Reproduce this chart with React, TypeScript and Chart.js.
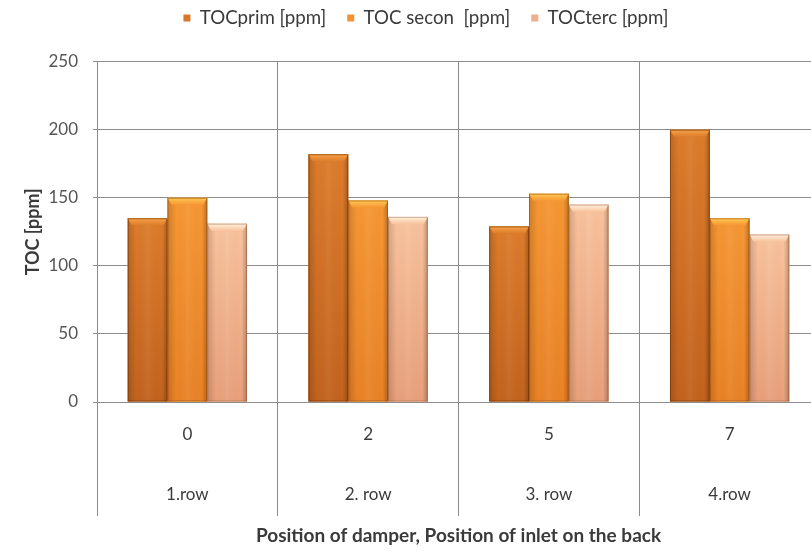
import React, { useEffect, useRef } from 'react';
import { Chart, registerables } from 'chart.js';

Chart.register(...registerables);

// Category levels: damper position (upper line) and inlet row (lower line)
const damperPositions = ['0', '2', '5', '7'];
const inletRows = ['1.row', '2. row', '3. row', '4.row'];

// TOC concentrations [ppm]
const tocPrim = [135, 182, 129, 200];
const tocSecon = [150, 148, 153, 135];
const tocTerc = [131, 136, 145, 123];

const seriesNames = ['TOCprim [ppm]', 'TOC secon  [ppm]', 'TOCterc [ppm]'];

const yMin = 0;
const yMax = 250;
const yStep = 50;

const FONT = 'Lato, "Open Sans", "DejaVu Sans", sans-serif';
const GRID = '#8c8c8c';
const TEXT = '#3a3a3a';

const barColors = ['#D9782A', '#F39232', '#F1AE8C'];
const bevelShades = [
  { cap: '#F6A447', top: '#DD7C2B', bottom: '#C2631E', edge: 'rgba(110,45,0,0.55)' },
  { cap: '#FFC852', top: '#F69734', bottom: '#E98226', edge: 'rgba(130,65,0,0.45)' },
  { cap: '#FFF2DF', top: '#F9C39E', bottom: '#E8A07B', edge: 'rgba(140,75,40,0.40)' },
];

// Paints an Excel-like bevel on top of every bar the library has laid out.
const bevelPlugin = {
  id: 'bevel',
  afterDatasetDraw(chart: any, args: any) {
    const meta = args.meta;
    const shade = bevelShades[args.index];
    if (!shade) return;
    const ctx: CanvasRenderingContext2D = chart.ctx;
    ctx.save();
    meta.data.forEach((bar: any) => {
      const { x, y, base, width } = bar.getProps(['x', 'y', 'base', 'width'], true);
      const l = x - width / 2;
      const r = x + width / 2;
      const t = Math.min(y, base);
      const b = Math.max(y, base);
      const h = b - t;
      if (h <= 0) return;

      // body
      const vg = ctx.createLinearGradient(0, t, 0, b);
      vg.addColorStop(0, shade.top);
      vg.addColorStop(1, shade.bottom);
      ctx.fillStyle = vg;
      ctx.fillRect(l, t, width, h);

      // rounded-side shading
      const hg = ctx.createLinearGradient(l, 0, r, 0);
      hg.addColorStop(0, 'rgba(0,0,0,0.16)');
      hg.addColorStop(0.22, 'rgba(0,0,0,0.0)');
      hg.addColorStop(0.5, 'rgba(255,255,255,0.05)');
      hg.addColorStop(0.86, 'rgba(0,0,0,0.0)');
      hg.addColorStop(1, 'rgba(0,0,0,0.24)');
      ctx.fillStyle = hg;
      ctx.fillRect(l, t, width, h);

      // top cap
      const c = Math.min(7, h);
      const cg = ctx.createLinearGradient(0, t, 0, t + c);
      cg.addColorStop(0, shade.cap);
      cg.addColorStop(1, shade.top);
      ctx.fillStyle = cg;
      ctx.beginPath();
      ctx.moveTo(l, t);
      ctx.lineTo(r, t);
      ctx.lineTo(r - 4, t + c);
      ctx.lineTo(l + 4, t + c);
      ctx.closePath();
      ctx.fill();

      // outline
      ctx.strokeStyle = shade.edge;
      ctx.lineWidth = 1;
      ctx.strokeRect(l + 0.5, t + 0.5, width - 1, h - 1);
    });
    ctx.restore();
  },
};

export default function App() {
  const canvasRef = useRef<HTMLCanvasElement | null>(null);

  useEffect(() => {
    const canvas = canvasRef.current;
    if (!canvas) return;

    const labels = damperPositions.map((p, i) => [p, inletRows[i]]);
    const series = [tocPrim, tocSecon, tocTerc];

    const chart = new Chart(canvas, {
      type: 'bar',
      data: {
        labels,
        datasets: series.map((values, i) => ({
          label: seriesNames[i],
          data: values,
          backgroundColor: barColors[i],
          borderWidth: 0,
          categoryPercentage: 0.66,
          barPercentage: 1,
        })),
      },
      plugins: [bevelPlugin],
      options: {
        responsive: false,
        animation: false,
        events: [],
        layout: { padding: { top: -12.35, right: 10, bottom: 0, left: 32 } },
        plugins: {
          legend: {
            position: 'top',
            labels: {
              font: { family: FONT, size: 18.7 },
              color: TEXT,
              boxWidth: 7,
              boxHeight: 7,
              padding: 21,
            },
          },
          subtitle: {
            display: true,
            text: '',
            position: 'top',
            weight: 500,
            padding: 0,
            font: { size: 24.35, lineHeight: 1 },
          },
          tooltip: { enabled: false },
        },
        scales: {
          x: {
            type: 'category',
            offset: true,
            grid: {
              offset: true,
              color: GRID,
              lineWidth: 1,
              tickLength: 114,
              drawOnChartArea: true,
            },
            border: { display: true, color: GRID },
            ticks: {
              autoSkip: false,
              maxRotation: 0,
              minRotation: 0,
              padding: -111,
              color: TEXT,
              font: { family: FONT, size: 17, lineHeight: '60px' },
            },
            title: {
              display: true,
              text: 'Position of damper, Position of inlet on the back',
              color: TEXT,
              font: { family: FONT, size: 19, weight: 'bold', lineHeight: 1.2 },
              padding: { top: 0, bottom: 3.6 },
            },
            afterFit(scale: any) {
              scale.height = 149;
            },
          },
          y: {
            min: yMin,
            max: yMax,
            grid: { color: GRID, lineWidth: 1, tickLength: 4 },
            border: { display: true, color: GRID },
            ticks: {
              stepSize: yStep,
              padding: 15,
              color: '#555555',
              font: { family: FONT, size: 17 },
            },
            title: {
              display: true,
              text: 'TOC [ppm]',
              color: TEXT,
              font: { family: FONT, size: 18, weight: 'bold', lineHeight: 1 },
              padding: { top: -8, bottom: 0 },
            },
            afterFit(scale: any) {
              scale.width = 65;
            },
          },
        },
      },
    } as any);

    return () => chart.destroy();
  }, []);

  return (
    <div
      style={{
        position: 'fixed',
        left: 0,
        top: 0,
        width: 811,
        height: 551,
        overflow: 'hidden',
        background: '#ffffff',
      }}
    >
      <canvas ref={canvasRef} width={830} height={551} style={{ display: 'block' }} />
    </div>
  );
}
